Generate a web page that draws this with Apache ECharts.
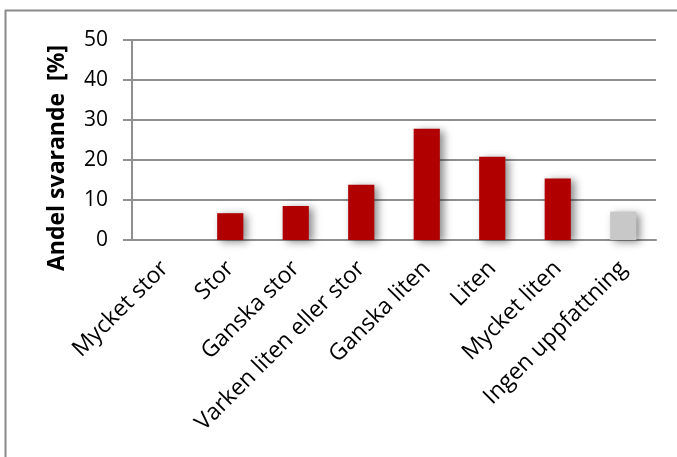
<!DOCTYPE html>
<html>
<head>
<meta charset="utf-8">
<script src="https://cdn.jsdelivr.net/npm/echarts@6/dist/echarts.min.js"></script>
<style>
  html, body { margin: 0; padding: 0; background: #fff; }
  #chart { width: 677px; height: 457px; }
</style>
</head>
<body>
<div id="chart"></div>
<script>
// Svarsalternativ och andel svarande (%)
const categories = [
  'Mycket stor', 'Stor', 'Ganska stor', 'Varken liten eller stor',
  'Ganska liten', 'Liten', 'Mycket liten', 'Ingen uppfattning'
];
const shares = [0, 6.7, 8.5, 13.8, 27.8, 20.8, 15.4, 7.1];
const barColors = ['#b00000', '#b00000', '#b00000', '#b00000',
                   '#b00000', '#b00000', '#b00000', '#c8c8c8'];
const yTitle = 'Andel svarande  [%]';

const FONT = "'Open Sans', sans-serif";
const GRID_GRAY = '#8f8f8f';

const chart = echarts.init(document.getElementById('chart'), null, { renderer: 'canvas' });

chart.setOption({
  animation: false,
  backgroundColor: '#ffffff',
  grid: { left: 132, right: 21, top: 40, bottom: 217, containLabel: false },
  graphic: [
    // ram runt diagramytan (övre och vänstra kanten syns)
    { type: 'line', shape: { x1: 5, y1: 10.5, x2: 677, y2: 10.5 },
      style: { stroke: '#8a8a8a', lineWidth: 2 } },
    { type: 'line', shape: { x1: 5.5, y1: 10, x2: 5.5, y2: 457 },
      style: { stroke: '#8a8a8a', lineWidth: 2 } }
  ],
  xAxis: {
    type: 'category',
    data: categories,
    axisLine: { show: true, lineStyle: { color: GRID_GRAY, width: 2 } },
    axisTick: { show: false },
    axisLabel: {
      rotate: 45,
      interval: 0,
      margin: 25,
      color: '#000',
      fontFamily: FONT,
      fontSize: 23
    }
  },
  yAxis: {
    type: 'value',
    min: 0,
    max: 50,
    interval: 10,
    name: yTitle,
    nameLocation: 'middle',
    nameGap: 63,
    nameTextStyle: {
      color: '#000',
      fontFamily: FONT,
      fontWeight: 'bold',
      fontSize: 23,
      padding: [0, 36, 0, 0]
    },
    axisLine: { show: true, lineStyle: { color: GRID_GRAY, width: 2 } },
    axisTick: { show: true, length: 9, lineStyle: { color: GRID_GRAY, width: 2 } },
    splitLine: { show: true, lineStyle: { color: GRID_GRAY, width: 2 } },
    axisLabel: {
      margin: 24,
      color: '#000',
      fontFamily: FONT,
      fontSize: 21
    }
  },
  series: [{
    type: 'bar',
    data: shares.map((v, i) => ({ value: v, itemStyle: { color: barColors[i] } })),
    barWidth: '40%',
    itemStyle: {
      shadowColor: 'rgba(0,0,0,0.45)',
      shadowBlur: 8,
      shadowOffsetX: 4,
      shadowOffsetY: 2
    }
  }]
});
</script>
</body>
</html>
